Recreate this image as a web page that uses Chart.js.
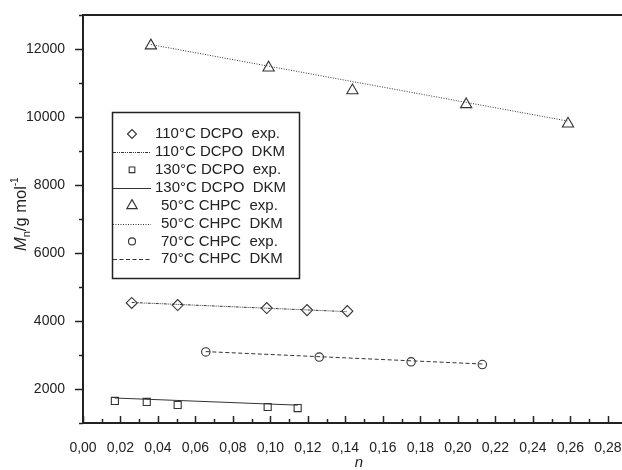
<!DOCTYPE html>
<html>
<head>
<meta charset="utf-8">
<script src="https://cdn.jsdelivr.net/npm/chart.js@4.4.0/dist/chart.umd.min.js"></script>
<style>
  html, body { margin: 0; padding: 0; background: #fff; }
</style>
</head>
<body>
<canvas id="chart" width="622" height="470"></canvas>
<script>
// n values (x) and Mn in g/mol (y)
const dcpo110X = [0.026, 0.0505, 0.098, 0.1195, 0.141];
const dcpo110Y = [4530, 4470, 4380, 4320, 4290];
const dcpo110DkmX = [0.026, 0.141];
const dcpo110DkmY = [4545, 4275];

const dcpo130X = [0.017, 0.034, 0.0505, 0.0985, 0.1145];
const dcpo130Y = [1650, 1620, 1530, 1470, 1440];
const dcpo130DkmX = [0.017, 0.1145];
const dcpo130DkmY = [1735, 1525];

const chpc50X = [0.0362, 0.099, 0.1437, 0.2044, 0.2587];
const chpc50Y = [12100, 11450, 10780, 10370, 9800];
const chpc50DkmX = [0.0362, 0.2587];
const chpc50DkmY = [12130, 9880];

const chpc70X = [0.0655, 0.126, 0.175, 0.213];
const chpc70Y = [3090, 2940, 2800, 2720];
const chpc70DkmX = [0.0655, 0.213];
const chpc70DkmY = [3100, 2735];

const legendLabels = [
  "110°C DCPO  exp.", "110°C DCPO  DKM",
  "130°C DCPO  exp.", "130°C DCPO  DKM",
  "50°C CHPC  exp.", "50°C CHPC  DKM",
  "70°C CHPC  exp.", "70°C CHPC  DKM"
];

const FONT = "'Liberation Sans', Arial, sans-serif";
const INK = "#222";

const toPoints = (xs, ys) => xs.map((x, i) => ({ x: x, y: ys[i] }));

function markers(xs, ys, style, radius) {
  return {
    data: toPoints(xs, ys),
    showLine: false,
    pointStyle: style,
    pointRadius: radius,
    pointBackgroundColor: "rgba(0,0,0,0)",
    pointBorderColor: "#333",
    pointBorderWidth: 1.1
  };
}

function fitLine(xs, ys, dash) {
  return {
    data: toPoints(xs, ys),
    showLine: true,
    borderColor: "#333",
    borderWidth: 1,
    borderDash: dash,
    pointRadius: 0
  };
}

const isEven = (v, step) => Math.abs(v / step - Math.round(v / step)) < 1e-6;

// legend drawn inside the plot, like the original figure
const legendItems = [
  { style: "rectRot", r: 4.5, indent: 0 },
  { dash: [3, 1, 1, 1, 1, 1], indent: 0 },
  { style: "rect", r: 4, indent: 0 },
  { dash: [], indent: 0 },
  { style: "triangle", r: 6, indent: 6 },
  { dash: [1, 1.5], indent: 6 },
  { style: "circle", r: 3.5, indent: 6 },
  { dash: [4, 2.5], indent: 6 }
];

const decorPlugin = {
  id: "decor",
  afterDraw(chart) {
    const ctx = chart.ctx;
    const xs = chart.scales.x;
    const ys = chart.scales.y;
    const area = chart.chartArea;

    ctx.save();
    ctx.strokeStyle = INK;

    // top frame line
    ctx.lineWidth = 2;
    ctx.beginPath();
    ctx.moveTo(area.left - 1, area.top);
    ctx.lineTo(chart.width, area.top);
    ctx.stroke();

    // x ticks point inward, y ticks outward
    ctx.lineWidth = 1.5;
    xs.ticks.forEach(t => {
      if (!isEven(t.value, 0.01)) return;
      const px = Math.round(xs.getPixelForValue(t.value)) + 0.5;
      const len = isEven(t.value, 0.02) ? 7 : 4;
      ctx.beginPath();
      ctx.moveTo(px, area.bottom);
      ctx.lineTo(px, area.bottom - len);
      ctx.stroke();
    });
    ys.ticks.forEach(t => {
      const py = Math.round(ys.getPixelForValue(t.value)) + 0.5;
      const len = isEven(t.value, 2000) ? 8 : 4;
      ctx.beginPath();
      ctx.moveTo(area.left, py);
      ctx.lineTo(area.left - len, py);
      ctx.stroke();
    });

    // axis titles
    ctx.fillStyle = INK;
    ctx.textBaseline = "middle";
    ctx.textAlign = "center";
    ctx.font = "italic 15px " + FONT;
    ctx.fillText("n", 359, 463);

    ctx.save();
    ctx.translate(26, 251);
    ctx.rotate(-Math.PI / 2);
    ctx.textAlign = "left";
    ctx.textBaseline = "alphabetic";
    let cx = 0;
    ctx.font = "italic 16.5px " + FONT;
    ctx.fillText("M", cx, 0);
    cx += ctx.measureText("M").width;
    ctx.font = "11px " + FONT;
    ctx.fillText("n", cx, 4);
    cx += ctx.measureText("n").width;
    ctx.font = "16.5px " + FONT;
    ctx.fillText("/g mol", cx, 0);
    cx += ctx.measureText("/g mol").width;
    ctx.font = "10px " + FONT;
    ctx.fillText("-1", cx, -8);
    ctx.restore();

    // legend box
    ctx.lineWidth = 1.5;
    ctx.strokeRect(112.5, 112.5, 187, 166);
    ctx.font = "15px " + FONT;
    ctx.textAlign = "left";
    ctx.textBaseline = "middle";
    legendItems.forEach((item, i) => {
      const ry = 134 + i * 17.9;
      if (item.style) {
        ctx.save();
        ctx.fillStyle = "rgba(0,0,0,0)";
        ctx.strokeStyle = "#333";
        ctx.lineWidth = 1.1;
        Chart.helpers.drawPoint(ctx, {
          pointStyle: item.style, radius: item.r, borderWidth: 1.1, rotation: 0
        }, 132, ry);
        ctx.restore();
      } else {
        ctx.save();
        ctx.strokeStyle = "#333";
        ctx.lineWidth = 1;
        ctx.setLineDash(item.dash);
        ctx.beginPath();
        ctx.moveTo(113, Math.round(ry) + 0.5);
        ctx.lineTo(151, Math.round(ry) + 0.5);
        ctx.stroke();
        ctx.restore();
      }
      ctx.fillStyle = INK;
      ctx.fillText(legendLabels[i], 155 + item.indent, ry);
    });
    ctx.restore();
  }
};

new Chart(document.getElementById("chart"), {
  type: "scatter",
  data: {
    datasets: [
      fitLine(dcpo110DkmX, dcpo110DkmY, [3, 1, 1, 1, 1, 1]),
      fitLine(dcpo130DkmX, dcpo130DkmY, []),
      fitLine(chpc50DkmX, chpc50DkmY, [1, 1.5]),
      fitLine(chpc70DkmX, chpc70DkmY, [4, 2.5]),
      markers(dcpo110X, dcpo110Y, "rectRot", 5.5),
      markers(dcpo130X, dcpo130Y, "rect", 5),
      markers(chpc50X, chpc50Y, "triangle", 6.5),
      markers(chpc70X, chpc70Y, "circle", 4.2)
    ]
  },
  options: {
    responsive: false,
    animation: false,
    events: [],
    layout: { autoPadding: false, padding: { top: 15, right: 0, left: 0, bottom: 0 } },
    plugins: { legend: { display: false }, tooltip: { enabled: false } },
    scales: {
      x: {
        type: "linear",
        min: 0,
        max: 0.2875,
        afterFit: s => {
          s.height = 47;
          s.paddingLeft = 0;
          s.paddingRight = 0;
        },
        grid: { display: false },
        border: { color: INK, width: 2 },
        ticks: {
          stepSize: 0.01,
          autoSkip: false,
          maxRotation: 0,
          includeBounds: false,
          padding: 9,
          color: INK,
          font: { family: FONT, size: 14 },
          callback: v => isEven(v, 0.02) ? v.toFixed(2).replace(".", ",") : ""
        }
      },
      y: {
        min: 1000,
        max: 13000,
        afterFit: s => {
          s.width = 83;
          s.paddingTop = 0;
          s.paddingBottom = 0;
        },
        grid: { display: false },
        border: { color: INK, width: 2 },
        ticks: {
          stepSize: 1000,
          padding: 10,
          color: INK,
          font: { family: FONT, size: 14 },
          callback: v => isEven(v, 2000) ? String(v) : ""
        }
      }
    }
  },
  plugins: [decorPlugin]
});
</script>
</body>
</html>
